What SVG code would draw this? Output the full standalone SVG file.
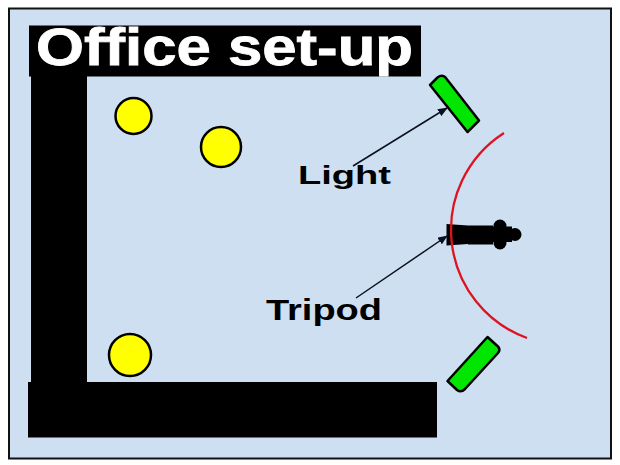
<svg xmlns="http://www.w3.org/2000/svg" width="620" height="465" viewBox="0 0 620 465">
<style>
.wall{fill:#000}
.seat{fill:#ffff00;stroke:#000;stroke-width:2.5}
.light{fill:#00e600;stroke:#000;stroke-width:2.5;stroke-linejoin:round}
.lbl{font-family:"Liberation Sans",Arial,sans-serif;font-weight:bold;fill:#000}
.conn{fill:none;stroke:#0a1020;stroke-width:1.5}
</style>
<defs>
<marker id="arr" viewBox="0 0 10 8" refX="9" refY="4" markerWidth="10" markerHeight="8" markerUnits="userSpaceOnUse" orient="auto"><path d="M0 0L10 4L0 8Z" fill="#0a1020"/></marker>
</defs>
<rect width="620" height="465" fill="#fff"/>
<rect id="frame" x="9" y="8.500" width="602" height="450" fill="#cfdff2" stroke="#111" stroke-width="2"/>
<g id="walls">
<rect class="wall" x="31" y="70" width="56" height="314"/>
<rect class="wall" x="28" y="382" width="409" height="55.500"/>
</g>
<g id="title">
<rect class="wall" x="29" y="25.500" width="392" height="51"/>
<text class="lbl" x="36" y="65" font-size="51" style="fill:#fff;stroke:#fff;stroke-width:.8" textLength="377" lengthAdjust="spacingAndGlyphs">Office set-up</text>
</g>
<g id="seat-1"><circle class="seat" cx="133.500" cy="116" r="18"/></g>
<g id="seat-2"><circle class="seat" cx="221" cy="147" r="20"/></g>
<g id="seat-3"><circle class="seat" cx="130" cy="355" r="21"/></g>
<g id="light-top"><path class="light" d="M430 85L437.500 77.500Q442 74 445.500 77.500L479 120.500L467.500 132Z"/></g>
<g id="light-bottom"><path class="light" d="M447.500 381L487.500 337L498.500 347Q500.500 350 498 353L465 389Q461 393 457 390Z"/></g>
<g id="camera">
<path class="wall" d="M446.500 224L468 225.500H493V226.500H512V242H493V244.500H468V244L446.500 245.500Z"/>
<circle class="wall" cx="500" cy="226" r="6.500"/>
<circle class="wall" cx="500" cy="243" r="6.500"/>
<circle class="wall" cx="515" cy="234.500" r="6.500"/>
</g>
<g id="arc"><path d="M504 133A115 115 0 0 0 527 338" fill="none" stroke="#dc1420" stroke-width="2.300"/></g>
<g id="connectors">
<path class="conn" marker-end="url(#arr)" d="M353 166L447 108"/>
<path class="conn" marker-end="url(#arr)" d="M356 298L447 236"/>
</g>
<g id="label-light"><text class="lbl" x="298" y="184" font-size="25" textLength="93" lengthAdjust="spacingAndGlyphs">Light</text></g>
<g id="label-tripod"><text class="lbl" x="266" y="320" font-size="30" textLength="116" lengthAdjust="spacingAndGlyphs">Tripod</text></g>
</svg>
